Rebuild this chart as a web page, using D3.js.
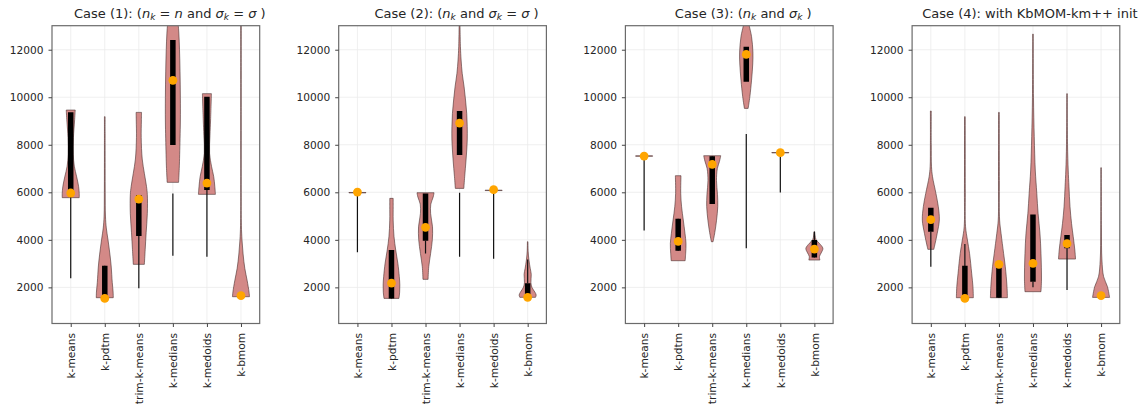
<!DOCTYPE html>
<html>
<head>
<meta charset="utf-8">
<script src="https://cdn.jsdelivr.net/npm/d3@7"></script>
<style>
  body { margin: 0; background: #fff; }
  svg { display: block; font-family: "DejaVu Sans", sans-serif; }
</style>
</head>
<body>
<svg id="chart" width="1144" height="408"></svg>
<script>
// ---- categories and axis ticks ----
const methods = ["k-means", "k-pdtm", "trim-k-means", "k-medians", "k-medoids", "k-bmom"];
const yTicks = [2000, 4000, 6000, 8000, 10000, 12000];
const yDomain = [480, 13010];

// ---- panel titles (segments: plain, italic, subscript) ----
const case1Title = [["Case (1): (", ""], ["n", "i"], ["k", "s"], [" = ", ""], ["n", "i"], [" and ", ""], ["σ", "i"], ["k", "s"], [" = ", ""], ["σ", "i"], [" )", ""]];
const case2Title = [["Case (2): (", ""], ["n", "i"], ["k", "s"], [" and ", ""], ["σ", "i"], ["k", "s"], [" = ", ""], ["σ", "i"], [" )", ""]];
const case3Title = [["Case (3): (", ""], ["n", "i"], ["k", "s"], [" and ", ""], ["σ", "i"], ["k", "s"], [" )", ""]];
const case4Title = [["Case (4): with KbMOM-km++ init", ""]];

// ---- violin density profiles: [value, relative half-width] ----
const case1Shapes = [
  [[5774,1.0],[5950,1.0],[6235,0.93],[6650,0.7],[7100,0.42],[7600,0.3],[8300,0.32],[9000,0.45],[9461,0.53]],
  [[1565,1.0],[1800,0.98],[2200,0.88],[2900,0.75],[3400,0.6],[4000,0.38],[4500,0.18],[5000,0.08],[6000,0.05],[8000,0.04],[9181,0.04]],
  [[2968,0.65],[3600,0.75],[4300,0.86],[5100,1.0],[5900,1.0],[6250,0.9],[6800,0.65],[7400,0.4],[8300,0.28],[9000,0.3],[9363,0.32]],
  [[6418,0.67],[7000,0.75],[7600,0.8],[9000,0.88],[10000,0.88],[11100,0.84],[12000,0.78],[12700,0.7],[13300,0.58]],
  [[5913,1.0],[6235,0.93],[6656,0.8],[7077,0.55],[7640,0.31],[8400,0.36],[9040,0.43],[10150,0.53]],
  [[1607,1.0],[1800,0.95],[2300,0.72],[2800,0.45],[3400,0.25],[4000,0.12],[4600,0.05],[6000,0.03],[9000,0.03],[13300,0.03]]
];
const case2Shapes = [
  [[5975,1.0],[5992,1.0]],
  [[1537,0.88],[1800,0.96],[2100,0.98],[2450,0.92],[3010,0.75],[3570,0.5],[4130,0.3],[4830,0.2],[5400,0.2],[5745,0.2]],
  [[2337,0.3],[2870,0.38],[3430,0.6],[4000,0.8],[4550,0.82],[5100,0.6],[5500,0.62],[5800,0.9],[5983,1.0]],
  [[6165,0.5],[6656,0.6],[7357,0.76],[8199,0.9],[8760,0.9],[9321,0.84],[9882,0.7],[10443,0.53],[11004,0.31],[11565,0.18],[12127,0.1],[13300,0.04]],
  [[6073,1.0],[6090,1.0]],
  [[1580,0.92],[1680,1.0],[1800,0.85],[2000,0.5],[2200,0.38],[2550,0.42],[2800,0.3],[3150,0.15],[3500,0.06],[3921,0.03]]
];
const case3Shapes = [
  [[7518,1.0],[7534,1.0]],
  [[3122,0.82],[3430,0.88],[3850,0.92],[4272,0.8],[4833,0.6],[5394,0.4],[5955,0.3],[6698,0.33]],
  [[3921,0.1],[4300,0.3],[4800,0.5],[5400,0.65],[5900,0.62],[6500,0.5],[7000,0.6],[7300,0.85],[7540,1.0]],
  [[9531,0.22],[10020,0.42],[10720,0.62],[11400,0.76],[11900,0.78],[12550,0.62],[13000,0.35],[13200,0.22]],
  [[7658,1.0],[7674,1.0]],
  [[3150,0.65],[3300,0.6],[3450,0.8],[3641,1.0],[3850,0.6],[4000,0.2],[4200,0.08],[4342,0.04]]
];
const case4Shapes = [
  [[3600,0.35],[3711,0.42],[4272,0.75],[4833,1.0],[5394,0.88],[5955,0.6],[6656,0.2],[7077,0.08],[8000,0.05],[9419,0.05]],
  [[1565,1.0],[2030,0.95],[2590,0.8],[3430,0.55],[3992,0.3],[4553,0.08],[6000,0.05],[9181,0.04]],
  [[1565,1.0],[2030,0.95],[2870,0.75],[3430,0.55],[4272,0.25],[4833,0.08],[6500,0.05],[9363,0.04]],
  [[1818,0.94],[2310,1.0],[3430,0.94],[4272,0.82],[5114,0.6],[5955,0.45],[6937,0.27],[8340,0.15],[10000,0.06],[12659,0.03]],
  [[3192,1.0],[3570,0.92],[4132,0.73],[4693,0.53],[5394,0.35],[6236,0.23],[6937,0.14],[8000,0.06],[10150,0.03]],
  [[1579,1.0],[2030,0.75],[2450,0.3],[3150,0.1],[4500,0.04],[7035,0.03]]
];

// ---- interquartile boxes [q1, q3] ----
const case1Boxes = [[6095,9370],[1610,2910],[4160,5885],[7988,12407],[6095,10022],[1610,1650]];
const case2Boxes = [[5983,5983],[1537,3570],[3963,5955],[7570,9420],[6081,6081],[1580,2170]];
const case3Boxes = [[7526,7526],[3543,4889],[5506,7512],[10650,12126],[7666,7666],[3262,3991]];
const case4Boxes = [[4342,5352],[1565,2911],[1565,2968],[2238,5071],[3641,4202],[1600,1650]];

// ---- whiskers [low, high] ----
const case1Whiskers = [[2380,6095],[1565,2910],[1958,4160],[3332,5955],[3290,6095],[1610,1650]];
const case2Whiskers = [[3473,5983],[1537,3570],[3430,3963],[3290,5983],[3206,6081],[2170,3178]];
const case3Whiskers = [[4398,7526],[3543,4889],[5506,7512],[3641,8452],[5997,7666],[3262,4342]];
const case4Whiskers = [[2870,4342],[1565,3823],[1565,2968],[2000,2238],[1888,3641],[1600,1650]];

// ---- highlighted result per method ----
const case1Markers = [5970, 1537, 5717, 10710, 6390, 1650];
const case2Markers = [6011, 2180, 4525, 8914, 6110, 1580];
const case3Markers = [7526, 3935, 7175, 11803, 7666, 3613];
const case4Markers = [4847, 1537, 2968, 3010, 3837, 1650];

const panels = [
  { title: case1Title, shapes: case1Shapes, boxes: case1Boxes, whiskers: case1Whiskers, markers: case1Markers },
  { title: case2Title, shapes: case2Shapes, boxes: case2Boxes, whiskers: case2Whiskers, markers: case2Markers },
  { title: case3Title, shapes: case3Shapes, boxes: case3Boxes, whiskers: case3Whiskers, markers: case3Markers },
  { title: case4Title, shapes: case4Shapes, boxes: case4Boxes, whiskers: case4Whiskers, markers: case4Markers }
];

// ---- layout ----
const svg = d3.select("#chart");
const plotTop = 25.7, plotBottom = 323.5;
const plotW = 207.7, firstLeft = 52, panelStep = 286.7;
const textColor = "#262626";
const tickFont = 10.6, titleFont = 13;

panels.forEach((p, pi) => {
  const left = firstLeft + pi * panelStep;
  const g = svg.append("g").attr("transform", `translate(${left},0)`);

  const x = d3.scaleLinear().domain([0.45, 6.55]).range([0, plotW]);
  const y = d3.scaleLinear().domain(yDomain).range([plotBottom, plotTop]);
  const halfW = r => x(1 + 0.25 * r) - x(1);

  const clipId = `clip${pi}`;
  g.append("clipPath").attr("id", clipId)
    .append("rect").attr("x", 0).attr("y", plotTop)
    .attr("width", plotW).attr("height", plotBottom - plotTop);

  // grid
  const grid = g.append("g").attr("stroke", "#ebebeb").attr("stroke-width", 0.8);
  grid.selectAll(".gy").data(yTicks).join("line")
    .attr("x1", 0).attr("x2", plotW).attr("y1", d => y(d)).attr("y2", d => y(d));
  grid.selectAll(".gx").data(methods).join("line")
    .attr("x1", (d, i) => x(i + 1)).attr("x2", (d, i) => x(i + 1))
    .attr("y1", plotTop).attr("y2", plotBottom);

  const body = g.append("g").attr("clip-path", `url(#${clipId})`);

  // violins
  p.shapes.forEach((shape, i) => {
    const cx = x(i + 1);
    const area = d3.area()
      .y(d => y(d[0]))
      .x0(d => cx - halfW(d[1]))
      .x1(d => cx + halfW(d[1]))
      .curve(d3.curveCatmullRom.alpha(0.5));
    body.append("path").datum(shape)
      .attr("d", area)
      .attr("fill", "#d38987")
      .attr("stroke", "#4a2e2e")
      .attr("stroke-opacity", 0.6)
      .attr("stroke-width", 1);
  });

  // whiskers
  body.selectAll(".whisker").data(p.whiskers).join("line")
    .attr("x1", (d, i) => x(i + 1)).attr("x2", (d, i) => x(i + 1))
    .attr("y1", d => y(d[0])).attr("y2", d => y(d[1]))
    .attr("stroke", "#111").attr("stroke-width", 1.2);

  // quartile boxes
  body.selectAll(".box").data(p.boxes).join("line")
    .attr("x1", (d, i) => x(i + 1)).attr("x2", (d, i) => x(i + 1))
    .attr("y1", d => y(d[0])).attr("y2", d => y(d[1]))
    .attr("stroke", "#000").attr("stroke-width", 5.5);

  // markers
  body.selectAll(".marker").data(p.markers).join("circle")
    .attr("cx", (d, i) => x(i + 1)).attr("cy", d => y(d))
    .attr("r", 4.4).attr("fill", "#ffa500");

  // frame
  g.append("rect").attr("x", 0).attr("y", plotTop)
    .attr("width", plotW).attr("height", plotBottom - plotTop)
    .attr("fill", "none").attr("stroke", "#6b6b6b").attr("stroke-width", 1.2);

  // y axis
  const yAx = g.append("g")
    .call(d3.axisLeft(y).tickValues(yTicks).tickSize(3.5).tickPadding(5).tickFormat(d3.format("d")));
  yAx.select(".domain").remove();
  yAx.selectAll("line").attr("stroke", "#444");
  yAx.selectAll("text").attr("font-size", tickFont).attr("fill", textColor)
    .attr("font-family", "DejaVu Sans");

  // x axis
  const xAx = g.append("g").attr("transform", `translate(0,${plotBottom})`)
    .call(d3.axisBottom(x).tickValues(d3.range(1, 7)).tickSize(3.5)
      .tickFormat(d => methods[d - 1]));
  xAx.select(".domain").remove();
  xAx.selectAll("line").attr("stroke", "#444");
  xAx.selectAll("text")
    .attr("font-size", tickFont).attr("fill", textColor).attr("font-family", "DejaVu Sans")
    .attr("transform", "rotate(-90)")
    .attr("text-anchor", "end")
    .attr("x", -9.5).attr("y", 0).attr("dy", "0.35em");

  // title
  const t = g.append("text")
    .attr("x", plotW / 2 + 14).attr("y", 17.5)
    .attr("text-anchor", "middle")
    .attr("font-size", titleFont).attr("fill", textColor);
  let sub = false;
  p.title.forEach(([txt, kind]) => {
    const ts = t.append("tspan").text(txt);
    if (kind === "i") ts.attr("font-style", "italic");
    if (kind === "s") {
      ts.attr("font-style", "italic").attr("font-size", 9).attr("dy", 2.5);
      sub = true;
    } else if (sub) {
      ts.attr("dy", -2.5);
      sub = false;
    }
  });
});
</script>
</body>
</html>
